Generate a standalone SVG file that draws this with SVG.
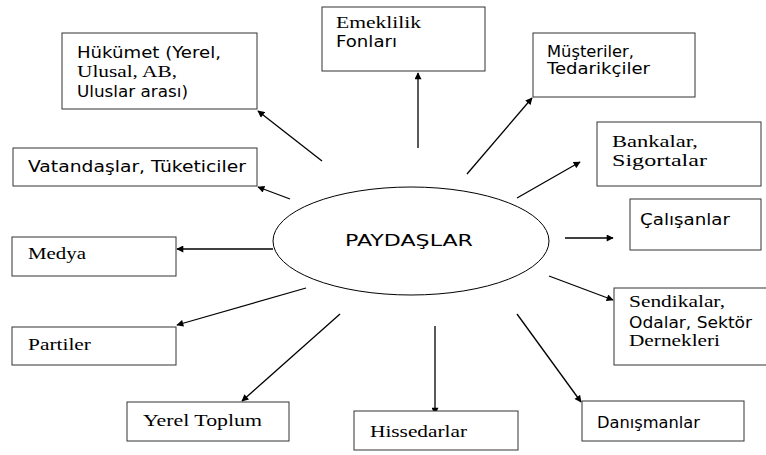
<svg xmlns="http://www.w3.org/2000/svg" width="766" height="455" viewBox="0 0 766 455">
<style>
.box{fill:#fff;stroke:#333;stroke-width:1}
.s{font-family:"DejaVu Sans","Liberation Sans",sans-serif;font-size:15px;fill:#000}
.r{font-family:"Liberation Serif","DejaVu Serif","Times New Roman",serif;font-size:16.5px;fill:#000}
.c line{stroke:#000;stroke-width:1.3;marker-end:url(#ah)}
</style>
<defs>
<marker id="ah" viewBox="0 0 10 10" refX="9" refY="5" markerWidth="8" markerHeight="7" markerUnits="userSpaceOnUse" orient="auto">
<path d="M0,0 L10,5 L0,10 z" fill="#000"/>
</marker>
</defs>
<rect width="766" height="455" fill="#fff"/>
<g class="c" id="connectors">
<line x1="418" y1="148" x2="418" y2="73"/>
<line x1="467" y1="174" x2="532" y2="98"/>
<line x1="517" y1="198" x2="580" y2="162"/>
<line x1="565" y1="238" x2="613" y2="238"/>
<line x1="549" y1="276" x2="613" y2="300"/>
<line x1="517" y1="314" x2="581" y2="402"/>
<line x1="435" y1="326" x2="435" y2="414"/>
<line x1="340" y1="314" x2="242" y2="401"/>
<line x1="306" y1="288" x2="177" y2="325"/>
<line x1="273" y1="249" x2="177" y2="249"/>
<line x1="290" y1="199" x2="258" y2="187"/>
<line x1="322" y1="161" x2="258" y2="111"/>
</g>
<g id="center">
<ellipse cx="411" cy="241" rx="138" ry="54" fill="#fff" stroke="#000" stroke-width="1"/>
<text class="s" x="345" y="246" textLength="128" lengthAdjust="spacingAndGlyphs">PAYDAŞLAR</text>
</g>
<g id="emeklilik">
<rect class="box" x="322" y="7" width="163" height="64"/>
<text class="r" x="336" y="28" textLength="85" lengthAdjust="spacingAndGlyphs">Emeklilik</text>
<text class="s" x="336" y="47" textLength="61" lengthAdjust="spacingAndGlyphs">Fonları</text>
</g>
<g id="hukumet">
<rect class="box" x="62" y="33" width="195" height="76"/>
<text class="s" x="77" y="58" textLength="144" lengthAdjust="spacingAndGlyphs">Hükümet (Yerel,</text>
<text class="r" x="77" y="77" textLength="100" lengthAdjust="spacingAndGlyphs">Ulusal, AB,</text>
<text class="s" x="77" y="97" textLength="111" lengthAdjust="spacingAndGlyphs">Uluslar arası)</text>
</g>
<g id="musteriler">
<rect class="box" x="533" y="33" width="162" height="64"/>
<text class="s" x="547" y="57" textLength="87" lengthAdjust="spacingAndGlyphs">Müşteriler,</text>
<text class="s" x="547" y="74" textLength="103" lengthAdjust="spacingAndGlyphs">Tedarikçiler</text>
</g>
<g id="vatandaslar">
<rect class="box" x="13" y="148" width="244" height="38"/>
<text class="s" x="28" y="172" textLength="218" lengthAdjust="spacingAndGlyphs">Vatandaşlar, Tüketiciler</text>
</g>
<g id="bankalar">
<rect class="box" x="597" y="122" width="164" height="64"/>
<text class="r" x="612" y="147" textLength="86" lengthAdjust="spacingAndGlyphs">Bankalar,</text>
<text class="r" x="612" y="166" textLength="95" lengthAdjust="spacingAndGlyphs">Sigortalar</text>
</g>
<g id="calisanlar">
<rect class="box" x="630" y="199" width="131" height="51"/>
<text class="s" x="640" y="225" textLength="90" lengthAdjust="spacingAndGlyphs">Çalışanlar</text>
</g>
<g id="medya">
<rect class="box" x="12" y="237" width="164" height="39"/>
<text class="r" x="28" y="259" textLength="58" lengthAdjust="spacingAndGlyphs">Medya</text>
</g>
<g id="sendikalar">
<rect class="box" x="614" y="288" width="160" height="77"/>
<text class="r" x="629" y="307" textLength="96" lengthAdjust="spacingAndGlyphs">Sendikalar,</text>
<text class="s" x="629" y="328" textLength="123" lengthAdjust="spacingAndGlyphs">Odalar, Sektör</text>
<text class="r" x="629" y="346" textLength="91" lengthAdjust="spacingAndGlyphs">Dernekleri</text>
</g>
<g id="partiler">
<rect class="box" x="12" y="327" width="164" height="38"/>
<text class="r" x="28" y="350" textLength="63" lengthAdjust="spacingAndGlyphs">Partiler</text>
</g>
<g id="yereltoplum">
<rect class="box" x="127" y="402" width="162" height="39"/>
<text class="r" x="143" y="426" textLength="119" lengthAdjust="spacingAndGlyphs">Yerel Toplum</text>
</g>
<g id="hissedarlar">
<rect class="box" x="354" y="411" width="164" height="39"/>
<text class="r" x="370" y="437" textLength="97" lengthAdjust="spacingAndGlyphs">Hissedarlar</text>
</g>
<g id="danismanlar">
<rect class="box" x="582" y="401" width="162" height="40"/>
<text class="s" x="597" y="428" textLength="103" lengthAdjust="spacingAndGlyphs">Danışmanlar</text>
</g>
</svg>
